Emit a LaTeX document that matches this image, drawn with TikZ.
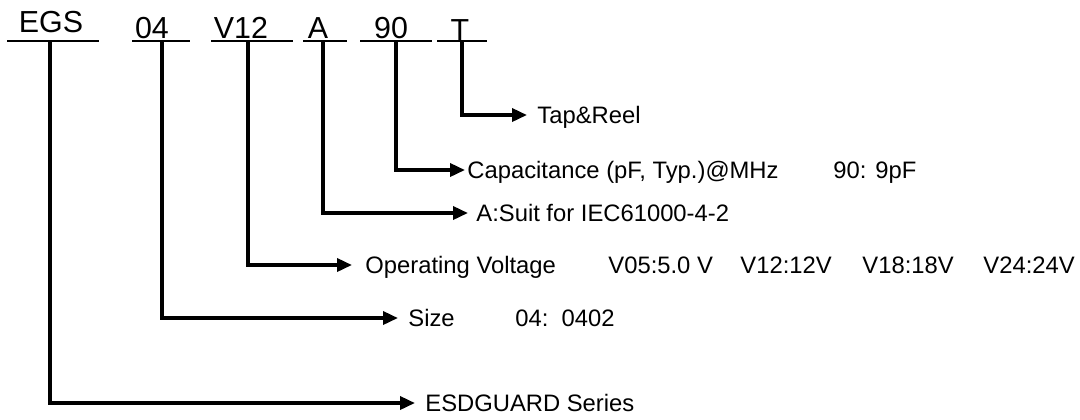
\documentclass[tikz,border=0pt]{standalone}
\usepackage{fontspec}
\setmainfont{Liberation Sans}
\usetikzlibrary{arrows.meta}
\begin{document}
\begin{tikzpicture}[x=0.5pt,y=-0.5pt,
  hdr/.style={font=\fontsize{15.2}{18}\selectfont, anchor=base, inner sep=0pt},
  lbl/.style={font=\fontsize{11.9}{14}\selectfont, anchor=west, inner ysep=0pt, text height=8.5pt, text depth=0pt},
  uline/.style={line width=1pt},
  arr/.style={line width=1.75pt, line join=miter, -{Triangle[length=7.5pt,width=6.5pt]}}
]
\useasboundingbox (0,0) rectangle (1080,419);
% headers
\node[hdr] (hEGS) at (51,32) {EGS};
\node[hdr] (h04) at (152,38) {04};
\node[hdr] (hV12) at (241,38) {V12};
\node[hdr] (hA) at (318,38) {A};
\node[hdr] (h90) at (391,38) {90};
\node[hdr] (hT) at (460,40) {T};
% underlines
\draw[uline] (7,41) -- (99,41);
\draw[uline] (132,41) -- (190,41);
\draw[uline] (211,41) -- (293,41);
\draw[uline] (303,41) -- (347,41);
\draw[uline] (360,41) -- (432,41);
\draw[uline] (437,41) -- (487,41);
% stem tops
\coordinate (sEGS) at (50,41);
\coordinate (s04) at (162,41);
\coordinate (sV12) at (248,41);
\coordinate (sA) at (323,41);
\coordinate (s90) at (396,41);
\coordinate (sT) at (462,41);
% labels
\node[lbl, inner xsep=5pt] (lT) at (527,115) {Tap\&Reel};
\node[lbl, inner xsep=1pt] (l90) at (465,170) {Capacitance (pF, Typ.)@MHz};
\node[lbl, inner xsep=0pt] (l90b) at (833,170) {90: 9pF};
\node[lbl, inner xsep=4pt] (lA) at (468,213) {A:Suit for IEC61000-4-2};
\node[lbl, inner xsep=6.5pt] (lV) at (352,265) {Operating Voltage};
\node[lbl, inner xsep=0pt] (lV1) at (608,265) {V05:5.0 V};
\node[lbl, inner xsep=0pt] (lV2) at (740,265) {V12:12V};
\node[lbl, inner xsep=0pt] (lV3) at (862,265) {V18:18V};
\node[lbl, inner xsep=0pt] (lV4) at (983,265) {V24:24V};
\node[lbl, inner xsep=5pt] (l04) at (398,318) {Size};
\node[lbl, inner xsep=0pt] (l04b) at (515,318) {04:\ \ 0402};
\node[lbl, inner xsep=5pt] (lEGS) at (415,403) {ESDGUARD Series};
% connectors
\draw[arr] (sT) |- (lT.west);
\draw[arr] (s90) |- (l90.west);
\draw[arr] (sA) |- (lA.west);
\draw[arr] (sV12) |- (lV.west);
\draw[arr] (s04) |- (l04.west);
\draw[arr] (sEGS) |- (lEGS.west);
\end{tikzpicture}
\end{document}
